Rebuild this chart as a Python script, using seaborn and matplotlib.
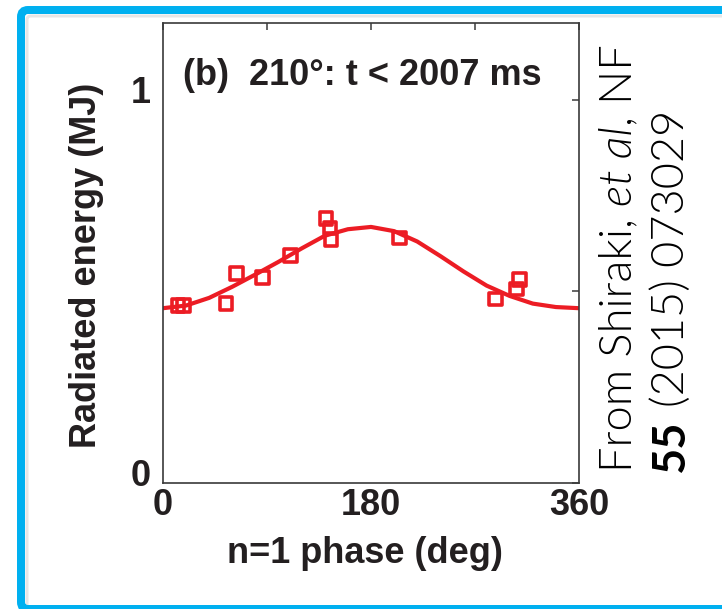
import matplotlib
matplotlib.use("Agg")
import matplotlib.pyplot as plt
import seaborn as sns
from matplotlib.patches import FancyBboxPatch
from matplotlib.transforms import ScaledTranslation, IdentityTransform

# ---- data ----
phase_deg = [13, 18, 54.5, 63.7, 86, 110, 141, 144.5, 145.4, 205, 288, 306, 308.4]
energy_mj = [0.463, 0.462, 0.469, 0.546, 0.537, 0.593, 0.691, 0.665, 0.636,
             0.639, 0.480, 0.506, 0.530]

fit_phase = [0, 20, 40, 60, 80, 100, 120, 140, 160, 180, 200, 220, 240, 260,
             280, 300, 320, 340, 360]
fit_energy = [0.456, 0.463, 0.483, 0.512, 0.544, 0.577, 0.612, 0.645, 0.662,
              0.668, 0.657, 0.630, 0.592, 0.552, 0.515, 0.488, 0.468, 0.459, 0.456]

x_ticks = [0, 90, 180, 270, 360]
x_tick_labels = ["0", "", "180", "", "360"]
y_ticks = [0, 0.5, 1]
y_tick_labels = ["0", "", "1"]

title_text = "(b)  210\u00b0: t < 2007 ms"
x_label = "n=1 phase (deg)"
y_label = "Radiated energy (MJ)"
credit_line1 = [("From Shiraki, ", "normal", 300), ("et al", "italic", 300), (", NF", "normal", 300)]
credit_line2 = [("55", "normal", "bold"), (" (2015) 073029", "normal", 300)]

# ---- style ----
sns.set_theme(style="white")
plt.rcParams["font.family"] = ["Liberation Sans", "DejaVu Sans"]

RED = "#EC1C24"
INK = "#231F20"
BLUE = "#00B0F0"
FS = 26

W, H = 722, 609
fig = plt.figure(figsize=(W / 100, H / 100), dpi=100)
fig.patch.set_facecolor("white")

ax_l, ax_r, ax_t, ax_b = 163, 579, 23, 483
ax = fig.add_axes([ax_l / W, (H - ax_b) / H, (ax_r - ax_l) / W, (ax_b - ax_t) / H])
ax.set_facecolor("white")

sns.lineplot(x=fit_phase, y=fit_energy, ax=ax, color=RED, linewidth=3.0, zorder=2)
sns.scatterplot(x=phase_deg, y=energy_mj, ax=ax, marker="s", s=85, color=RED,
                facecolors="none", edgecolor=RED, linewidth=2.6, zorder=3)

ax.set_xlim(0, 360)
ax.set_ylim(0, 1.2)
ax.set_xticks(x_ticks)
ax.set_xticklabels(x_tick_labels)
ax.set_yticks(y_ticks)
ax.set_yticklabels(y_tick_labels)

for sp in ax.spines.values():
    sp.set_color("#3a3a3a")
    sp.set_linewidth(1.2)

ax.tick_params(axis="both", direction="in", length=5, width=1.1, color="#3a3a3a",
               top=True, right=True, labelsize=FS, labelcolor=INK)
ax.tick_params(axis="x", pad=3.5)
ax.tick_params(axis="y", pad=9)
for lab in ax.get_xticklabels() + ax.get_yticklabels():
    lab.set_fontweight("bold")
for lab in ax.get_yticklabels():
    lab.set_transform(lab.get_transform() + ScaledTranslation(0, 10 / 100, fig.dpi_scale_trans))

ax.set_xlabel(x_label, fontsize=FS, fontweight="bold", color=INK)
ax.set_ylabel(y_label, fontsize=FS, fontweight="bold", color=INK)
ax.xaxis.set_label_coords((365 - ax_l) / (ax_r - ax_l), -(536 - ax_b) / (ax_b - ax_t))
ax.yaxis.set_label_coords(-(163 - 104) / (ax_r - ax_l), (ax_b - 265) / (ax_b - ax_t))

ax.text((183 - ax_l) / (ax_r - ax_l), (ax_b - 85) / (ax_b - ax_t), title_text,
        transform=ax.transAxes, fontsize=FS, fontweight="bold", color=INK,
        ha="left", va="baseline")

# ---- credit text, rotated, drawn piece by piece ----
renderer = fig.canvas.get_renderer()
CFAM = ["Lato", "DejaVu Sans"]


def text_len(s, size, style, weight):
    t = fig.text(0, 0, s, fontsize=size, family=CFAM, style=style, fontweight=weight)
    w = t.get_window_extent(renderer).width
    t.remove()
    return w


def piece_lengths(pieces, size):
    out = []
    for s, st, wt in pieces:
        core = s.strip(" ")
        lead = len(s) - len(s.lstrip(" "))
        trail = len(s) - len(s.rstrip(" "))
        sp = text_len("a a", size, st, wt) - text_len("aa", size, st, wt)
        out.append((core, st, wt, lead * sp, text_len(core, size, st, wt), trail * sp))
    return out


base = 30
tot1 = sum(a + b + c for _, _, _, a, b, c in piece_lengths(credit_line1, base))
csize = base * 427 / tot1


def draw_line_up(pieces, x_px, y_start_px, size):
    # y measured from top of image; text reads upward so y decreases
    y = y_start_px
    for core, st, wt, lead, ln, trail in piece_lengths(pieces, size):
        y -= lead
        fig.text(x_px / W, (H - y) / H, core, rotation=90, rotation_mode="anchor",
                 ha="left", va="center", fontsize=size, family=CFAM, style=st,
                 fontweight=wt, color="black")
        y -= ln + trail


draw_line_up(credit_line1, 619, 472, csize)
draw_line_up(credit_line2, 671, 472, csize)

# ---- rounded blue frame ----
shadow = FancyBboxPatch((27, -10), 740, 599 - 6 + 10, boxstyle="round,pad=0,rounding_size=4",
                        transform=IdentityTransform(), fill=False, edgecolor="#e6e6e6",
                        linewidth=3 * 72 / 100, zorder=9)
fig.add_artist(shadow)
frame = FancyBboxPatch((21, 0), 732 - 21, 599, boxstyle="round,pad=0,rounding_size=7",
                       transform=IdentityTransform(), fill=False, edgecolor=BLUE,
                       linewidth=8 * 72 / 100, zorder=10)
fig.add_artist(frame)

fig.savefig("out.png", dpi=100, facecolor="white")
